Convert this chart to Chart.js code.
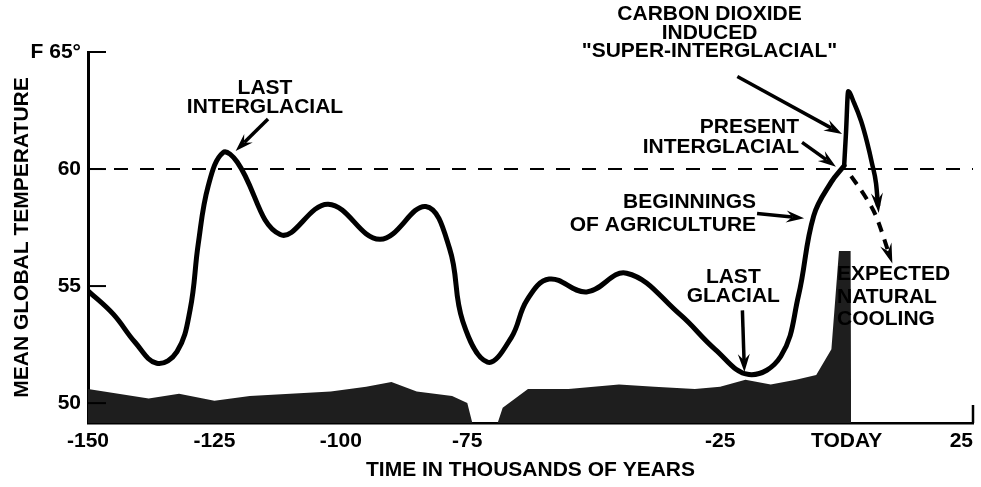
<!DOCTYPE html>
<html>
<head>
<meta charset="utf-8">
<script src="https://cdn.jsdelivr.net/npm/chart.js@4.4.0/dist/chart.umd.min.js"></script>
<style>
html,body{margin:0;padding:0;background:#fff;}
#wrap{width:981px;height:487px;}
</style>
</head>
<body>
<div id="wrap"><canvas id="c" width="981" height="487"></canvas></div>
<script>
// ---- data (thousands of years, degrees F) ----
const curveYears = [-150,-145,-140.7,-136.4,-132.4,-129.8,-128.2,-126.2,-123.3,-120.5,-112,-102.5,-92.3,-83.2,-78.5,-75.9,-71,-66.3,-63.2,-58.8,-51.4,-43.5,-33,-26,-19.3,-13,-9.5,-6.5,-3,-0.48];
const curveTemps = [54.8,53.8,52.6,51.7,52.2,54.0,56.8,59.3,60.7,60.3,57.2,58.5,57.0,58.4,56.6,53.5,51.75,52.8,54.4,55.3,54.75,55.55,53.8,52.3,51.22,52.0,54.6,58.0,59.45,60.14];
const co2Years = [-0.48,-0.1,0.31,1.49,2.87,4.06,5.04,5.83,6.23];
const co2Temps = [60.14,61.6,63.32,62.82,62.05,61.14,60.23,59.38,58.42];
const coolingYears = [0.9,3.9,5.8,8.6];
const coolingTemps = [59.7,58.75,58.0,56.25];
const shadeYears = [-150,-144,-138,-132,-125,-118,-110,-102,-95,-90,-85,-78,-75,-74,-69,-68,-63,-55,-45,-38,-30,-25,-20,-15,-10,-6,-3,-1.5,0.8,0.9];
const shadeTops = [50.6,50.4,50.2,50.4,50.1,50.3,50.4,50.5,50.7,50.9,50.5,50.3,50.0,49.15,49.15,49.8,50.6,50.6,50.8,50.7,50.6,50.7,51.0,50.8,51.0,51.2,52.3,56.5,56.5,49.15];
const referenceYears = [-150,25];
const referenceTemps = [60,60];
const xTickValues = [-150,-125,-100,-75,-25,0,25];
const xTickLabels = ['-150','-125','-100','-75','-25','TODAY','25'];
const yTickValues = [50,55,60,65];
const yTickLabels = ['50','55','60','F 65°'];

// annotation texts, anchored in data units
const notes = [
  {lines:['LAST','INTERGLACIAL'], x:-115.0, y:63.45, align:'center', gap:19},
  {lines:['CARBON DIOXIDE','INDUCED','"SUPER-INTERGLACIAL"'], x:-27.1, y:66.6, align:'center', gap:18.5},
  {lines:['PRESENT','INTERGLACIAL'], x:-9.4, y:61.8, align:'right', gap:20},
  {lines:['BEGINNINGS','OF AGRICULTURE'], x:-17.9, y:58.6, align:'right', gap:23},
  {lines:['LAST','GLACIAL'], x:-22.4, y:55.4, align:'center', gap:19},
  {lines:['EXPECTED','NATURAL','COOLING'], x:-1.9, y:55.5, align:'left', gap:22.5}
];
const pointers = [
  {from:[-114.4,62.14], to:[-120.8,60.77]},
  {from:[-21.6,63.95], to:[-0.9,61.5]},
  {from:[-8.8,61.14], to:[-2.1,60.1]},
  {from:[-17.7,58.1], to:[-8.4,57.9]},
  {from:[-20.6,53.96], to:[-20.2,51.33]}
];

const pts = (xs, ys) => xs.map((x, i) => ({x: x, y: ys[i]}));
const FONT = '"Liberation Sans", Arial, sans-serif';

function arrowHead(ctx, x1, y1, x2, y2, len, half) {
  const a = Math.atan2(y2 - y1, x2 - x1);
  const c = Math.cos(a), s = Math.sin(a);
  ctx.beginPath();
  ctx.moveTo(x2, y2);
  ctx.lineTo(x2 - len * c + half * s, y2 - len * s - half * c);
  ctx.lineTo(x2 - len * 0.65 * c, y2 - len * 0.65 * s);
  ctx.lineTo(x2 - len * c - half * s, y2 - len * s + half * c);
  ctx.closePath();
  ctx.fill();
}

const decor = {
  id: 'decor',
  beforeDraw(chart) {
    const ctx = chart.ctx;
    ctx.save();
    ctx.fillStyle = '#fff';
    ctx.fillRect(0, 0, chart.width, chart.height);
    ctx.restore();
  },
  afterDatasetsDraw(chart) {
    const ctx = chart.ctx;
    const xs = chart.scales.x, ys = chart.scales.y;
    const area = chart.chartArea;
    ctx.save();
    ctx.strokeStyle = '#000';
    ctx.fillStyle = '#000';
    // inward y ticks
    ctx.lineWidth = 2;
    yTickValues.forEach(v => {
      const py = ys.getPixelForValue(v);
      ctx.beginPath();
      ctx.moveTo(area.left, py);
      ctx.lineTo(area.left + 18, py);
      ctx.stroke();
    });
    // end tick at right of x axis
    ctx.lineWidth = 2.5;
    const ex = xs.getPixelForValue(xTickValues[xTickValues.length - 1]);
    ctx.beginPath();
    ctx.moveTo(ex, area.bottom);
    ctx.lineTo(ex, area.bottom - 18);
    ctx.stroke();
    // x tick labels (last one ends at its tick)
    ctx.font = 'bold 21px ' + FONT;
    ctx.textBaseline = 'middle';
    xTickValues.forEach((v, i) => {
      ctx.textAlign = i === xTickValues.length - 1 ? 'right' : 'center';
      ctx.fillText(xTickLabels[i], xs.getPixelForValue(v), area.bottom + 18);
    });
    // arrowheads at ends of the projection lines
    [1, 2].forEach(di => {
      const el = chart.getDatasetMeta(di).data;
      const a = el[el.length - 2], b = el[el.length - 1];
      const ang = Math.atan2(b.y - a.y, b.x - a.x);
      const tx = b.x + 7 * Math.cos(ang), ty = b.y + 7 * Math.sin(ang);
      arrowHead(ctx, a.x, a.y, tx, ty, 20, 6);
    });
    // pointer arrows
    ctx.lineWidth = 3.5;
    pointers.forEach(p => {
      const x1 = xs.getPixelForValue(p.from[0]), y1 = ys.getPixelForValue(p.from[1]);
      const x2 = xs.getPixelForValue(p.to[0]), y2 = ys.getPixelForValue(p.to[1]);
      const ang = Math.atan2(y2 - y1, x2 - x1);
      ctx.beginPath();
      ctx.moveTo(x1, y1);
      ctx.lineTo(x2 - 12 * Math.cos(ang), y2 - 12 * Math.sin(ang));
      ctx.stroke();
      arrowHead(ctx, x1, y1, x2, y2, 18, 6);
    });
    // notes
    notes.forEach(n => {
      const x = xs.getPixelForValue(n.x), y = ys.getPixelForValue(n.y);
      ctx.textAlign = n.align;
      n.lines.forEach((t, i) => ctx.fillText(t, x, y + i * n.gap));
    });
    ctx.restore();
  }
};

new Chart(document.getElementById('c'), {
  type: 'line',
  data: {
    datasets: [
      {data: pts(curveYears, curveTemps), borderColor: '#000', borderWidth: 5, pointRadius: 0, tension: 0.4, borderCapStyle: 'round', borderJoinStyle: 'round', fill: false, order: 1},
      {data: pts(co2Years, co2Temps), borderColor: '#000', borderWidth: 4.5, pointRadius: 0, cubicInterpolationMode: 'monotone', borderJoinStyle: 'round', fill: false, order: 2},
      {data: pts(coolingYears, coolingTemps), borderColor: '#000', borderWidth: 4, borderDash: [10, 8], pointRadius: 0, cubicInterpolationMode: 'monotone', fill: false, order: 3},
      {data: pts(referenceYears, referenceTemps), borderColor: '#000', borderWidth: 2, borderDash: [14, 12], pointRadius: 0, tension: 0, fill: false, order: 4},
      {data: pts(shadeYears, shadeTops), borderWidth: 0, borderColor: 'rgba(0,0,0,0)', backgroundColor: '#1e1e1e', pointRadius: 0, tension: 0, fill: 'start', order: 5}
    ]
  },
  options: {
    responsive: false,
    animation: false,
    devicePixelRatio: 1,
    layout: {padding: {top: 52, right: 8, left: 0, bottom: 0}},
    plugins: {legend: {display: false}, tooltip: {enabled: false}},
    scales: {
      x: {
        type: 'linear', min: -150, max: 25,
        afterBuildTicks: s => { s.ticks = xTickValues.map(v => ({value: v})); },
        afterFit: s => { s.height = 64; s.paddingLeft = 0; s.paddingRight = 0; },
        ticks: {display: false},
        grid: {display: false, drawTicks: false},
        border: {display: true, color: '#000', width: 2.5},
        title: {display: true, text: 'TIME IN THOUSANDS OF YEARS', color: '#000',
          font: {family: FONT, weight: 'bold', size: 21}, padding: {top: 0, bottom: 4}}
      },
      y: {
        type: 'linear', min: 49.15, max: 65,
        afterBuildTicks: s => { s.ticks = yTickValues.map(v => ({value: v})); },
        afterFit: s => { s.width = 88; },
        ticks: {
          callback: (v, i) => yTickLabels[i],
          padding: 7, color: '#000',
          font: {family: FONT, weight: 'bold', size: 21}
        },
        grid: {display: false, drawTicks: false},
        border: {display: true, color: '#000', width: 3},
        title: {display: true, text: 'MEAN GLOBAL TEMPERATURE', color: '#000',
          font: {family: FONT, weight: 'bold', size: 21}, padding: {top: 10, bottom: 0}}
      }
    }
  },
  plugins: [decor]
});
</script>
</body>
</html>
